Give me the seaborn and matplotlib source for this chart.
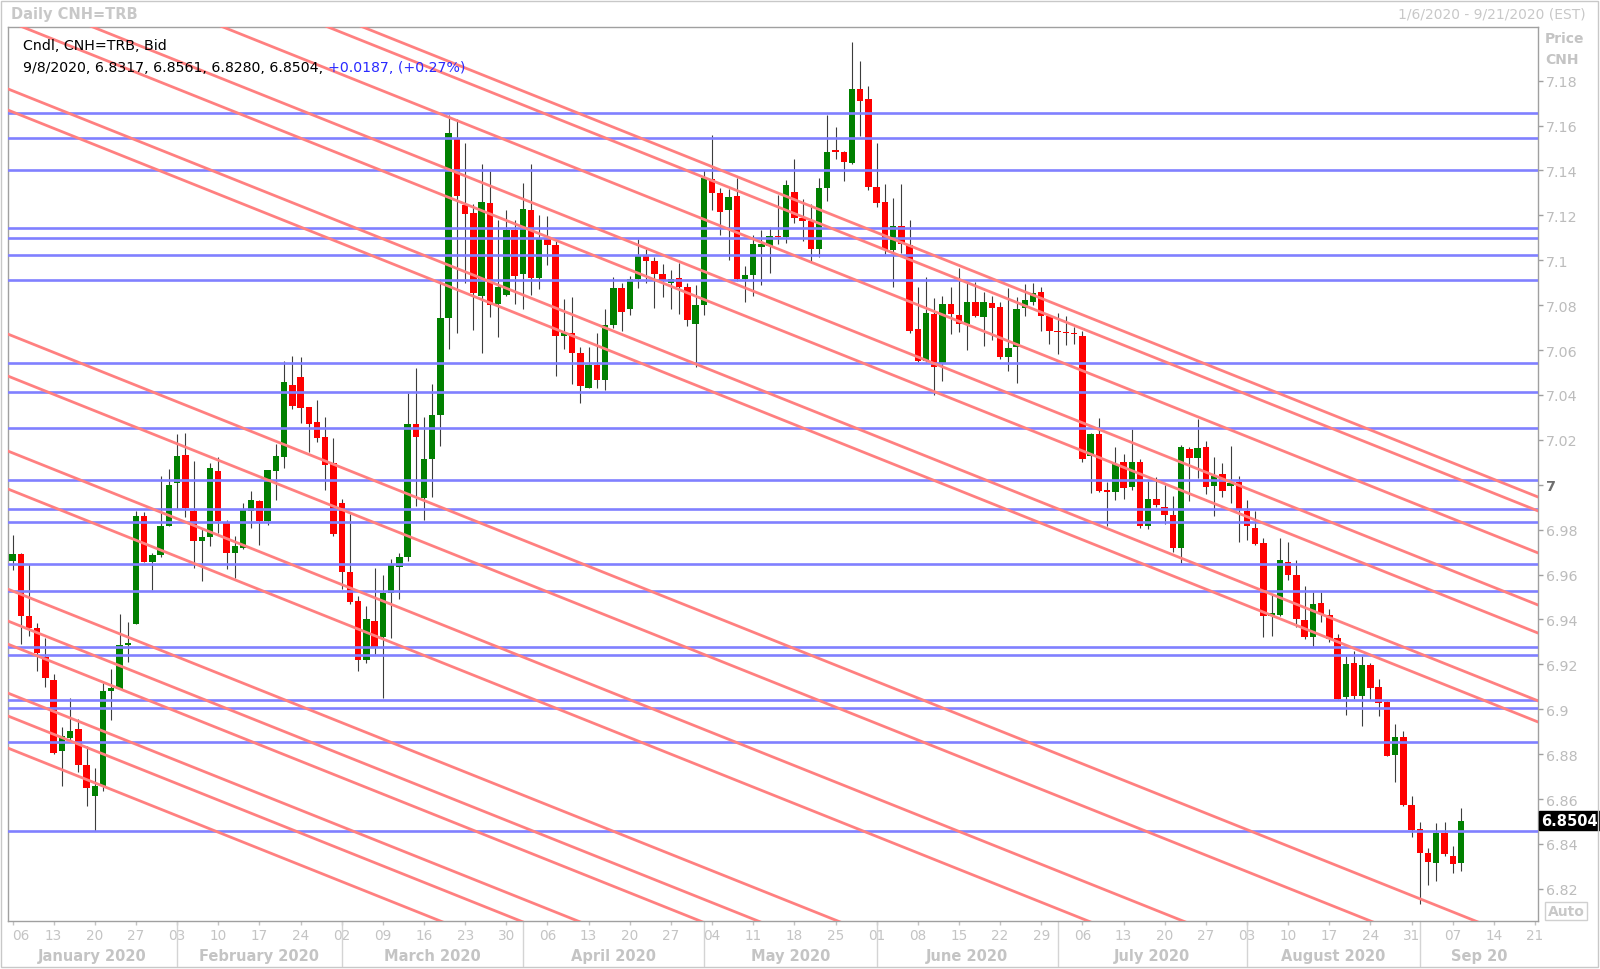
import numpy as np
import pandas as pd
import matplotlib
matplotlib.use('Agg')
import matplotlib.pyplot as plt
import matplotlib.transforms as mtransforms
from matplotlib.patches import Rectangle
import seaborn as sns

# trading days on the axis, Jan 6 -> Sep 21 2020
days = pd.bdate_range('2020-01-06', '2020-09-21')

# daily candles CNH=TRB (one row per month in each list)
opens = [
    6.9662, 6.9690, 6.9414, 6.9362, 6.9234, 6.9130, 6.8816, 6.8870, 6.8912, 6.8752, 6.8612, 6.8657, 6.9083, 6.9090, 6.9286, 6.9380, 6.9863, 6.9654, 6.9687, 6.9818,
    7.0006, 7.0134, 6.9885, 6.9751, 6.9766, 7.0063, 6.9828, 6.9696, 6.9718, 6.9885, 6.9926, 6.9837, 7.0063, 7.0125, 7.0445, 7.0482, 7.0345, 7.0278, 7.0211, 7.0096,
    6.9919, 6.9613, 6.9484, 6.9221, 6.9395, 6.9324, 6.9518, 6.9632, 6.9680, 7.0271, 6.9940, 7.0116, 7.0310, 7.0745, 7.1542, 7.1246, 7.1211, 7.0843, 7.1257, 7.0806, 7.0847, 7.1137,
    7.0938, 7.1222, 7.0922, 7.1098, 7.1067, 7.0662, 7.0674, 7.0588, 7.0433, 7.0533, 7.0465, 7.0711, 7.0877, 7.0785, 7.0917, 7.1018, 7.0996, 7.0938, 7.0900, 7.0921, 7.0882, 7.0718,
    7.0799, 7.1362, 7.1299, 7.1222, 7.1287, 7.0916, 7.0934, 7.1057, 7.1065, 7.1109, 7.1102, 7.1302, 7.1187, 7.1176, 7.1050, 7.1320, 7.1488, 7.1481, 7.1432, 7.1763, 7.1718,
    7.1328, 7.1258, 7.1047, 7.1154, 7.1068, 7.0694, 7.0552, 7.0760, 7.0538, 7.0805, 7.0756, 7.0716, 7.0812, 7.0746, 7.0809, 7.0793, 7.0567, 7.0612, 7.0786, 7.0815, 7.0860, 7.0753,
    7.0686, 7.0682, 7.0674, 7.0664, 7.0129, 7.0226, 6.9976, 6.9969, 7.0100, 6.9988, 7.0100, 6.9818, 6.9936, 6.9899, 6.9867, 6.9717, 7.0159, 7.0118, 7.0167, 6.9993, 7.0048, 6.9996, 7.0014,
    6.9884, 6.9806, 6.9740, 6.9414, 6.9420, 6.9657, 6.9599, 6.9399, 6.9320, 6.9472, 6.9420, 6.9316, 6.9053, 6.9206, 6.9060, 6.9197, 6.9100, 6.9031, 6.8796, 6.8875, 6.8573,
    6.8466, 6.8359, 6.8315, 6.8451, 6.8345, 6.8317,
]
highs = [
    6.9778, 6.9696, 6.9647, 6.9383, 6.9316, 6.9157, 6.8922, 6.9049, 6.8957, 6.8838, 6.8737, 6.9117, 6.9179, 6.9424, 6.9387, 6.9885, 6.9880, 6.9694, 7.0041, 7.0070,
    7.0226, 7.0231, 7.0104, 6.9803, 7.0096, 7.0122, 6.9845, 6.9770, 6.9919, 6.9971, 6.9930, 7.0066, 7.0182, 7.0550, 7.0572, 7.0568, 7.0345, 7.0379, 7.0300, 7.0207,
    6.9937, 6.9870, 6.9506, 6.9461, 6.9628, 6.9597, 6.9668, 6.9697, 7.0407, 7.0521, 7.0301, 7.0447, 7.0917, 7.1648, 7.1630, 7.1521, 7.1252, 7.1428, 7.1398, 7.1181, 7.1222, 7.1181,
    7.1345, 7.1428, 7.1202, 7.1195, 7.1084, 7.0829, 7.0838, 7.0613, 7.0614, 7.0676, 7.0782, 7.0926, 7.0900, 7.0930, 7.1093, 7.1049, 7.1014, 7.0982, 7.0958, 7.0988, 7.0900, 7.0891,
    7.1401, 7.1556, 7.1322, 7.1317, 7.1366, 7.0973, 7.1114, 7.1135, 7.1149, 7.1290, 7.1359, 7.1451, 7.1273, 7.1250, 7.1365, 7.1647, 7.1592, 7.1488, 7.1971, 7.1886, 7.1775,
    7.1522, 7.1340, 7.1277, 7.1340, 7.1181, 7.0879, 7.0924, 7.0830, 7.0839, 7.0879, 7.0964, 7.0898, 7.0901, 7.0857, 7.0842, 7.0815, 7.0875, 7.0835, 7.0894, 7.0898, 7.0879, 7.0756,
    7.0765, 7.0753, 7.0704, 7.0686, 7.0230, 7.0296, 7.0011, 7.0167, 7.0137, 7.0248, 7.0115, 7.0018, 7.0033, 6.9999, 6.9948, 7.0177, 7.0167, 7.0293, 7.0196, 7.0122, 7.0097, 7.0171, 7.0037,
    6.9933, 6.9884, 6.9761, 6.9513, 6.9761, 6.9743, 6.9665, 6.9547, 6.9524, 6.9521, 6.9446, 6.9335, 6.9238, 6.9261, 6.9238, 6.9206, 6.9135, 6.9038, 6.8934, 6.8904, 6.8612,
    6.8496, 6.8380, 6.8492, 6.8496, 6.8392, 6.8561,
]
lows = [
    6.9622, 6.9291, 6.9328, 6.9169, 6.9098, 6.8801, 6.8657, 6.8853, 6.8719, 6.8570, 6.8459, 6.8637, 6.8954, 6.9090, 6.9209, 6.9380, 6.9654, 6.9533, 6.9680, 6.9818,
    6.9892, 6.9855, 6.9628, 6.9570, 6.9726, 6.9785, 6.9625, 6.9583, 6.9714, 6.9806, 6.9732, 6.9822, 6.9934, 7.0073, 7.0338, 7.0275, 7.0145, 7.0189, 6.9978, 6.9773,
    6.9536, 6.9470, 6.9172, 6.9206, 6.9246, 6.9052, 6.9316, 6.9492, 6.9659, 6.9905, 6.9844, 6.9944, 7.0173, 7.0606, 7.0676, 7.0900, 7.0688, 7.0588, 7.0746, 7.0658, 7.0840, 7.0806,
    7.0782, 7.0847, 7.0873, 7.0979, 7.0486, 7.0606, 7.0451, 7.0363, 7.0430, 7.0430, 7.0421, 7.0697, 7.0683, 7.0754, 7.0877, 7.0900, 7.0789, 7.0835, 7.0782, 7.0759, 7.0706, 7.0525,
    7.0754, 7.1222, 7.1111, 7.1000, 7.0908, 7.0812, 7.0842, 7.0890, 7.0943, 7.1072, 7.1077, 7.1166, 7.1087, 7.0998, 7.1013, 7.1265, 7.1451, 7.1354, 7.1429, 7.1555, 7.1313,
    7.1236, 7.1028, 7.0879, 7.1032, 7.0676, 7.0548, 7.0548, 7.0400, 7.0463, 7.0671, 7.0682, 7.0601, 7.0746, 7.0616, 7.0646, 7.0560, 7.0508, 7.0453, 7.0753, 7.0800, 7.0686, 7.0627,
    7.0582, 7.0622, 7.0627, 7.0100, 6.9963, 6.9970, 6.9818, 6.9933, 6.9936, 6.9978, 6.9806, 6.9803, 6.9899, 6.9825, 6.9702, 6.9651, 6.9929, 7.0028, 6.9959, 6.9862, 6.9944, 6.9919, 6.9746,
    6.9755, 6.9731, 6.9320, 6.9325, 6.9415, 6.9577, 6.9365, 6.9313, 6.9283, 6.9387, 6.9301, 6.9045, 6.8974, 6.9048, 6.8927, 6.9042, 6.8968, 6.8790, 6.8677, 6.8570, 6.8429,
    6.8132, 6.8218, 6.8236, 6.8345, 6.8273, 6.8280,
]
closes = [
    6.9690, 6.9414, 6.9362, 6.9251, 6.9138, 6.8805, 6.8879, 6.8905, 6.8752, 6.8648, 6.8657, 6.9083, 6.9093, 6.9286, 6.9290, 6.9863, 6.9654, 6.9689, 6.9818, 7.0001,
    7.0130, 6.9897, 6.9748, 6.9766, 7.0075, 6.9837, 6.9696, 6.9726, 6.9888, 6.9932, 6.9837, 7.0066, 7.0127, 7.0456, 7.0352, 7.0342, 7.0271, 7.0208, 7.0090, 6.9781,
    6.9613, 6.9476, 6.9221, 6.9402, 6.9271, 6.9518, 6.9641, 6.9680, 7.0271, 7.0213, 7.0116, 7.0310, 7.0745, 7.1568, 7.1287, 7.1204, 7.0856, 7.1260, 7.0799, 7.0882, 7.1137, 7.0931,
    7.1230, 7.0922, 7.1098, 7.1067, 7.0662, 7.0674, 7.0586, 7.0438, 7.0533, 7.0465, 7.0711, 7.0877, 7.0771, 7.0917, 7.1018, 7.0996, 7.0940, 7.0912, 7.0917, 7.0882, 7.0732, 7.0799,
    7.1366, 7.1299, 7.1213, 7.1282, 7.0917, 7.0934, 7.1072, 7.1072, 7.1106, 7.1102, 7.1335, 7.1187, 7.1176, 7.1050, 7.1320, 7.1481, 7.1481, 7.1439, 7.1763, 7.1708, 7.1328,
    7.1255, 7.1047, 7.1154, 7.1072, 7.0686, 7.0552, 7.0765, 7.0523, 7.0805, 7.0760, 7.0716, 7.0812, 7.0750, 7.0812, 7.0786, 7.0567, 7.0607, 7.0783, 7.0824, 7.0852, 7.0753, 7.0686,
    7.0679, 7.0674, 7.0670, 7.0114, 7.0226, 6.9973, 6.9966, 7.0092, 6.9984, 7.0100, 6.9818, 6.9936, 6.9910, 6.9865, 6.9717, 7.0167, 7.0118, 7.0162, 6.9988, 7.0037, 6.9971, 7.0008, 6.9889,
    6.9818, 6.9736, 6.9414, 6.9427, 6.9665, 6.9598, 6.9402, 6.9320, 6.9469, 6.9424, 6.9313, 6.9048, 6.9201, 6.9060, 6.9198, 6.9097, 6.9028, 6.8793, 6.8875, 6.8573, 6.8463,
    6.8359, 6.8321, 6.8451, 6.8355, 6.8310, 6.8504,
]

# horizontal levels drawn on the chart
levels = [7.1654, 7.1546, 7.1404, 7.1142, 7.1100, 7.1024, 7.0910, 7.0541, 7.0414, 7.0253,
          7.0022, 6.9892, 6.9833, 6.9647, 6.9528, 6.9277, 6.9243, 6.9041, 6.9004, 6.8855, 6.8456]

# parallel falling trend lines: price on Jan 6 and change per trading day
trend_start = [7.2663, 7.2601, 7.2414, 7.2182, 7.2057, 7.1755, 7.1661, 7.0663, 7.0476,
               7.0142, 6.9973, 6.9527, 6.9385, 6.9282, 6.9064, 6.8962, 6.8819]
trend_slope = -0.001466

month_labels = ['January 2020', 'February 2020', 'March 2020', 'April 2020', 'May 2020',
                'June 2020', 'July 2020', 'August 2020', 'Sep 20']

df = pd.DataFrame({'date': days[:len(opens)], 'open': opens, 'high': highs,
                   'low': lows, 'close': closes})
df['x'] = np.arange(len(df))

sns.set_style('white')
plt.rcParams['font.family'] = ['DejaVu Sans']

W, H = 1600, 970
fig = plt.figure(figsize=(16, 9.7), dpi=100)
ax = fig.add_axes([8 / W, 48 / H, 1530 / W, 894 / H])

# candles
up = df['close'] >= df['open']
colors = np.where(up, '#008000', '#ff0000')
ax.vlines(df['x'], df['low'], df['high'], color='#3c3c3c', lw=0.8, zorder=2)
body = (df['close'] - df['open']).abs().clip(lower=0.0008)
ax.bar(df['x'], body, bottom=df[['open', 'close']].min(axis=1), width=0.78,
       color=colors, lw=0, zorder=3)

# horizontal levels
for lv in levels:
    ax.axhline(lv, color='#8080ff', lw=1.9, zorder=4)

# trend lines
xs = np.array([-2, len(days) + 2])
rows = []
for k, p0 in enumerate(trend_start):
    for xv in xs:
        rows.append({'line': k, 'x': xv, 'price': p0 + trend_slope * xv})
trend = pd.DataFrame(rows)
sns.lineplot(data=trend, x='x', y='price', units='line', estimator=None,
             color='#ff8080', lw=2.0, ax=ax, legend=False, zorder=5)
ax.set_xlabel('')
ax.set_ylabel('')

ax.set_xlim(-0.55, 185.36)
ax.set_ylim(6.8057, 7.2039)

for s in ax.spines.values():
    s.set_color('#a0a0a0')
    s.set_linewidth(1)

# right price axis
yt = np.round(np.arange(6.82, 7.181, 0.02), 2)
ax.set_yticks(yt)
ax.set_yticklabels([f'{v:g}' for v in yt])
ax.tick_params(axis='y', left=False, right=True, labelleft=False, labelright=True,
               direction='out', length=3.5, width=1, color='#a0a0a0',
               labelcolor='#bcbcbc', labelsize=10.3, pad=2.5)
for lab in ax.get_yticklabels():
    if lab.get_text() == '7':
        lab.set_fontweight('bold')
        lab.set_color('#6e6e6e')

# bottom date axis
mondays = np.where(days.dayofweek == 0)[0]
ax.set_xticks(mondays)
ax.set_xticklabels(days[mondays].strftime('%d'))
ax.tick_params(axis='x', bottom=True, direction='out', length=3, width=1,
               color='#c4c4c4', labelcolor='#c4c4c4', labelsize=9.8, pad=2)
ax.get_xticklabels()[0].set_ha('left')

# month separators and names
trans = mtransforms.blended_transform_factory(ax.transData, ax.transAxes)
first_idx = pd.Series(np.arange(len(days)), index=days).groupby(days.to_period('M')).first().values
bounds = list(first_idx) + [185.36]
bounds[0] = -0.55
for k, name in enumerate(month_labels):
    if k > 0:
        ax.plot([bounds[k], bounds[k]], [0, -0.05], transform=trans, clip_on=False,
                color='#d4d4d4', lw=1)
    ax.text((bounds[k] + bounds[k + 1]) / 2, -0.039, name, transform=trans,
            ha='center', va='center', fontsize=10.5, fontweight='bold', color='#c4c4c4')

# last price box
last = df['close'].iloc[-1]
ax.annotate(f'{last:.4f}', xy=(1.0, last), xycoords=('axes fraction', 'data'),
            xytext=(2, 0), textcoords='offset points', ha='left', va='center',
            color='white', fontweight='bold', fontsize=10.5, annotation_clip=False,
            bbox=dict(boxstyle='square,pad=0.15', fc='black', ec='black'))

# header texts
def fy(py):
    return 1 - py / H

fig.text(11 / W, fy(15), 'Daily CNH=TRB', ha='left', va='center', fontsize=10.5,
         fontweight='bold', color='#c8c8c8')
fig.text(1586 / W, fy(15), '1/6/2020 - 9/21/2020 (EST)', ha='right', va='center',
         fontsize=10, color='#c8c8c8')
fig.text(1545 / W, fy(39), 'Price', ha='left', va='center', fontsize=10,
         fontweight='bold', color='#c4c4c4')
fig.text(1545 / W, fy(60), 'CNH', ha='left', va='center', fontsize=10,
         fontweight='bold', color='#c4c4c4')
fig.text(23 / W, fy(46), 'Cndl, CNH=TRB, Bid', ha='left', va='center', fontsize=10.2,
         color='black', zorder=10)
t1 = fig.text(23 / W, fy(68), '9/8/2020, 6.8317, 6.8561, 6.8280, 6.8504, ', ha='left',
              va='center', fontsize=10.2, color='black', zorder=10)
ax.annotate('+0.0187, (+0.27%)', xy=(1, 0.5), xycoords=t1, ha='left', va='center',
            fontsize=10.2, color='#2a2aff', annotation_clip=False, zorder=10)
fig.text(1566 / W, fy(912), 'Auto', ha='center', va='center', fontsize=10,
         fontweight='bold', color='#c8c8c8',
         bbox=dict(boxstyle='square,pad=0.15', fc='white', ec='#d0d0d0'))

# outer frame
fig.patches.append(Rectangle((1 / W, 2 / H), 1597 / W, 966 / H, transform=fig.transFigure,
                             fill=False, edgecolor='#c8c8c8', lw=1))

fig.savefig('out.png', dpi=100)
